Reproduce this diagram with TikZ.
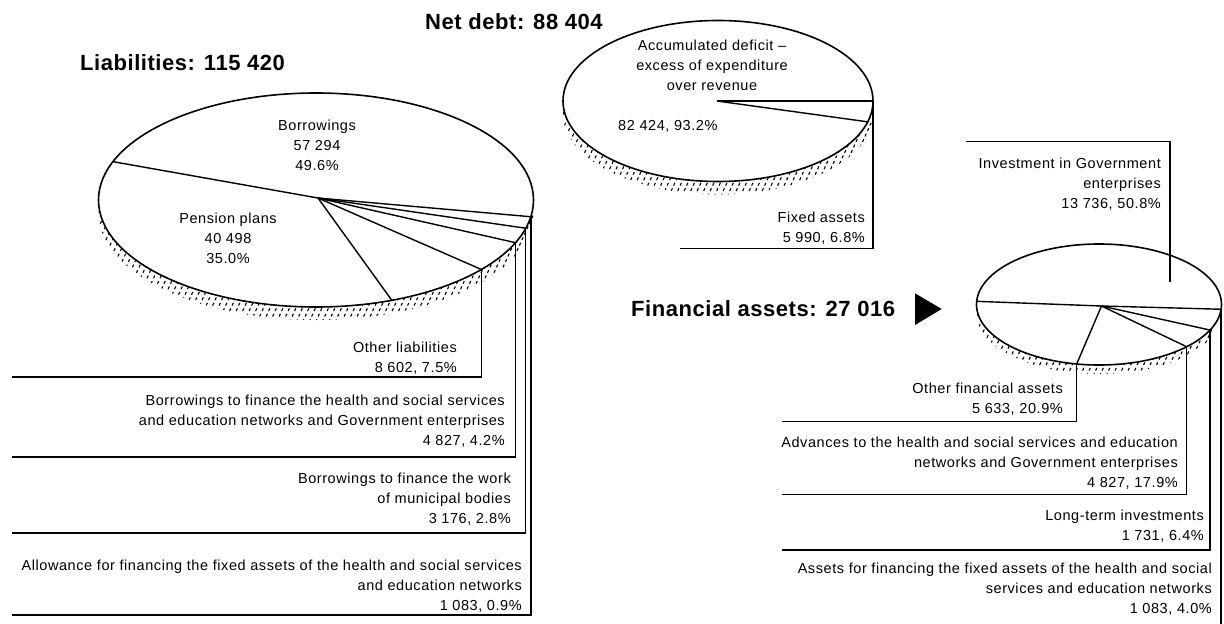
\documentclass[tikz,border=0pt]{standalone}
\usepackage{fontspec}
\setmainfont{Liberation Sans}[LetterSpace=4]
\newfontfamily\titlefont{Liberation Sans}[LetterSpace=2.5]
\usetikzlibrary{calc}
\newcommand\lblfont{\fontsize{14.5}{20}\selectfont}
\newcommand\ttlfont{\titlefont\bfseries\fontsize{22}{26}\selectfont}
% hatch band under a pie: cx cy rx ry h N
\newcommand\piehatch[6]{%
  \begin{scope}
    \clip ({#1+#3},#2) arc[start angle=0,end angle=180,x radius=#3,y radius=#4]
      -- ++(0,#5) arc[start angle=180,end angle=0,x radius=#3,y radius=#4] -- cycle;
    \foreach \k in {0,...,#6}{
      \draw[hatchln] ({#1-#3-(#4+#5+4)/2.2-6+6.5*\k},{#2+#4+#5+2})
        -- ++({(#4+#5+4)/2.2},{-(#4+#5+4)});
    }
  \end{scope}}
\tikzset{
  outline/.style={line width=1.6pt},
  pieline/.style={line width=1.4pt, line join=round},
  conn/.style={line width=1.4pt},
  hatchln/.style={line width=1.1pt, dash pattern=on 3pt off 3pt},
  lbl/.style={inner sep=0pt, align=right, anchor=north east, font=\lblfont},
  clbl/.style={inner sep=0pt, align=center, anchor=north, font=\lblfont},
  ttl/.style={inner sep=0pt, anchor=base west, font=\ttlfont}
}
\begin{document}
\begin{tikzpicture}[x=1pt,y=-1pt]
\useasboundingbox (0,0) rectangle (1224,624);

% ---------- hatching (pie sides)
\piehatch{316}{200}{217.5}{107}{13}{80}
\piehatch{718}{101}{155}{80.5}{13}{60}
\piehatch{1099}{304.5}{122.5}{60.5}{9}{46}

% ---------- titles
\node[ttl] (netdebt) at (425,29) {Net debt: 88 404};
\node[ttl] (liab) at (80,70) {Liabilities: 115 420};
\node[ttl] (finass) at (631,316.7) {Financial assets: 27 016};
\fill (915,293.3) -- (941.7,309) -- (915,325) -- cycle;

% ---------- left pie (liabilities)
\coordinate (LC) at (316,200);
\coordinate (LA) at (318,198);
\coordinate (L0) at ({316+217.5*cos(201)},{200+107*sin(201)});
\coordinate (L1) at ({316+217.5*cos(9)},{200+107*sin(9)});
\coordinate (L2) at ({316+217.5*cos(15.3)},{200+107*sin(15.3)});
\coordinate (L3) at ({316+217.5*cos(23.5)},{200+107*sin(23.5)});
\coordinate (L4) at ({316+217.5*cos(40.5)},{200+107*sin(40.5)});
\coordinate (L5) at ({316+217.5*cos(69.6)},{200+107*sin(69.6)});
\draw[outline] (LC) ellipse [x radius=217.5, y radius=107];
\draw[pieline] (L0) -- (LA) -- (L1);
\draw[pieline] (LA) -- (L2);
\draw[pieline] (LA) -- (L3);
\draw[pieline] (LA) -- (L4);
\draw[pieline] (LA) -- (L5);
\coordinate (E4) at (12,377);
\coordinate (E3) at (12,457);
\coordinate (E2) at (12,533);
\coordinate (E1) at (12,615);
\draw[conn] (L4) |- (E4);
\draw[conn] (L3) |- (E3);
\draw[conn] (L2) |- (E2);
\draw[conn] (L1) |- (E1);

\node[clbl] (borr) at (317,116) {\strut Borrowings\\57 294\\49.6\%};
\node[clbl] (pens) at (228,209) {\strut Pension plans\\40 498\\35.0\%};
\node[lbl] (othl) at (457,338) {\strut Other liabilities\\8 602, 7.5\%};
\node[lbl] (bhlth) at (505,391) {\strut Borrowings to finance the health and social services\\and education networks and Government enterprises\\4 827, 4.2\%};
\node[lbl] (bmun) at (511,469) {\strut Borrowings to finance the work\\of municipal bodies\\3 176, 2.8\%};
\node[lbl] (allw) at (522,556) {\strut Allowance for financing the fixed assets of the health and social services\\and education networks\\1 083, 0.9\%};

% ---------- middle pie (net debt)
\coordinate (MC) at (718,101);
\coordinate (MA) at (717,101);
\coordinate (M0) at ({718+155},101);
\coordinate (M1) at ({718+155*cos(15)},{101+80.5*sin(15)});
\draw[outline] (MC) ellipse [x radius=155, y radius=80.5];
\draw[pieline] (MA) -- (M0);
\draw[pieline] (MA) -- (M1);
\coordinate (FE) at (680,248.3);
\draw[conn] (M0) |- (FE);
\node[clbl] (defi) at (712,36) {\strut Accumulated deficit –\\excess of expenditure\\over revenue};
\node[inner sep=0pt, anchor=base west, font=\lblfont] (defv) at (618,130) {82 424, 93.2\%};
\node[lbl] (fixa) at (865,208) {\strut Fixed assets\\5 990, 6.8\%};

% ---------- right pie (financial assets)
\coordinate (RC) at (1099,304.5);
\coordinate (RA) at (1101.5,306);
\coordinate (R0) at ({1099+122.5*cos(183)},{304.5+60.5*sin(183)});
\coordinate (R1) at ({1099+122.5*cos(4.5)},{304.5+60.5*sin(4.5)});
\coordinate (R2) at ({1099+122.5*cos(100.5)},{304.5+60.5*sin(100.5)});
\coordinate (R3) at ({1099+122.5*cos(44.3)},{304.5+60.5*sin(44.3)});
\coordinate (R4) at ({1099+122.5*cos(25)},{304.5+60.5*sin(25)});
\draw[outline] (RC) ellipse [x radius=122.5, y radius=60.5];
\draw[pieline] (R0) -- (RA) -- (R1);
\draw[pieline] (RA) -- (R2);
\draw[pieline] (RA) -- (R3);
\draw[pieline] (RA) -- (R4);
\coordinate (IT) at (1170,282);
\coordinate (IE) at (966,141.7);
\coordinate (OE) at (781.7,421.7);
\coordinate (AE) at (781.7,494.5);
\coordinate (TE) at (781.7,550);
\coordinate (BE) at (0,624);
\draw[conn] (IT) |- (IE);
\draw[conn] (R2) |- (OE);
\draw[conn] (R3) |- (AE);
\draw[conn] (R4) |- (TE);
\draw[conn] (R1) -- (R1 |- BE);

\node[lbl] (inve) at (1161,154.5) {\strut Investment in Government\\enterprises\\13 736, 50.8\%};
\node[lbl] (othf) at (1063,379) {\strut Other financial assets\\5 633, 20.9\%};
\node[lbl] (adva) at (1178,433) {\strut Advances to the health and social services and education\\networks and Government enterprises\\4 827, 17.9\%};
\node[lbl] (ltin) at (1204,506) {\strut Long-term investments\\1 731, 6.4\%};
\node[lbl] (asfi) at (1212,559) {\strut Assets for financing the fixed assets of the health and social\\services and education networks\\1 083, 4.0\%};
\end{tikzpicture}
\end{document}
